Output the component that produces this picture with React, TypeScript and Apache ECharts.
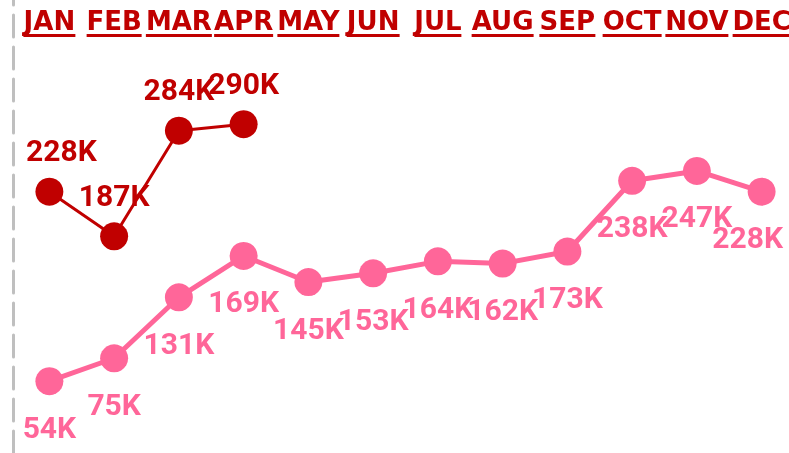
import React, { useEffect, useRef } from "react";
import * as echarts from "echarts";

const months = ["JAN", "FEB", "MAR", "APR", "MAY", "JUN", "JUL", "AUG", "SEP", "OCT", "NOV", "DEC"];
const currentYear = [228, 187, 284, 290];
const previousYear = [54, 75, 131, 169, 145, 153, 164, 162, 173, 238, 247, 228];

const RED = "#C00000";
const PINK = "#FF6699";
const MONTH_FONT = "DejaVu Sans";
const MONTH_SIZE = 26;

export default function App() {
  const ref = useRef<HTMLDivElement>(null);
  useEffect(() => {
    const chart = echarts.init(ref.current!, null, { renderer: "svg" });
    const ctx = document.createElement("canvas").getContext("2d")!;
    ctx.font = `bold ${MONTH_SIZE}px "${MONTH_FONT}"`;
    const rich: Record<string, any> = {
      t: { fontFamily: MONTH_FONT, fontWeight: "bold", fontSize: MONTH_SIZE, color: RED, lineHeight: 27, align: "center" },
    };
    months.forEach((m, i) => {
      rich["u" + i] = { width: Math.round(ctx.measureText(m).width), height: 3, backgroundColor: RED, align: "center" };
    });
    const labelFont = { fontFamily: "Roboto", fontWeight: "bold" as const, fontSize: 30 };
    chart.setOption({
      animation: false,
      grid: { left: 17, top: 0, width: 777, bottom: 0, outerBoundsMode: "none", containLabel: false },
      xAxis: {
        type: "category",
        data: months,
        position: "top",
        boundaryGap: true,
        axisLine: { show: false, onZero: false },
        axisTick: { show: false },
        splitLine: { show: false },
        axisLabel: {
          interval: 0,
          inside: true,
          margin: 7,
          hideOverlap: false,
          formatter: (v: string, idx: number) => `{t|${v}}\n{u${idx}|}`,
          rich,
        },
      },
      yAxis: {
        type: "value",
        min: -12,
        max: 404,
        offset: 4,
        axisLine: { show: true, lineStyle: { color: "#BFBFBF", width: 3, type: [22, 10] } },
        splitLine: { show: false },
        axisLabel: { show: false },
        axisTick: { show: false },
      },
      series: [
        {
          type: "line",
          data: previousYear.map((v, i) => (i === previousYear.length - 1 ? { value: v, label: { offset: [-14, 0] } } : v)),
          symbol: "circle",
          symbolSize: 28,
          lineStyle: { color: PINK, width: 5 },
          itemStyle: { color: PINK },
          label: { show: true, position: "bottom", distance: 17, formatter: "{c}K", color: PINK, ...labelFont },
          z: 2,
        },
        {
          type: "line",
          data: currentYear.map((v, i) => (i === 0 ? { value: v, label: { offset: [12, 0] } } : v)),
          symbol: "circle",
          symbolSize: 28,
          lineStyle: { color: RED, width: 3 },
          itemStyle: { color: RED },
          label: { show: true, position: "top", distance: 12, formatter: "{c}K", color: RED, ...labelFont },
          z: 3,
        },
      ],
    });
    return () => chart.dispose();
  }, []);
  return <div ref={ref} style={{ position: "fixed", left: 0, top: 0, width: 789, height: 453 }} />;
}
